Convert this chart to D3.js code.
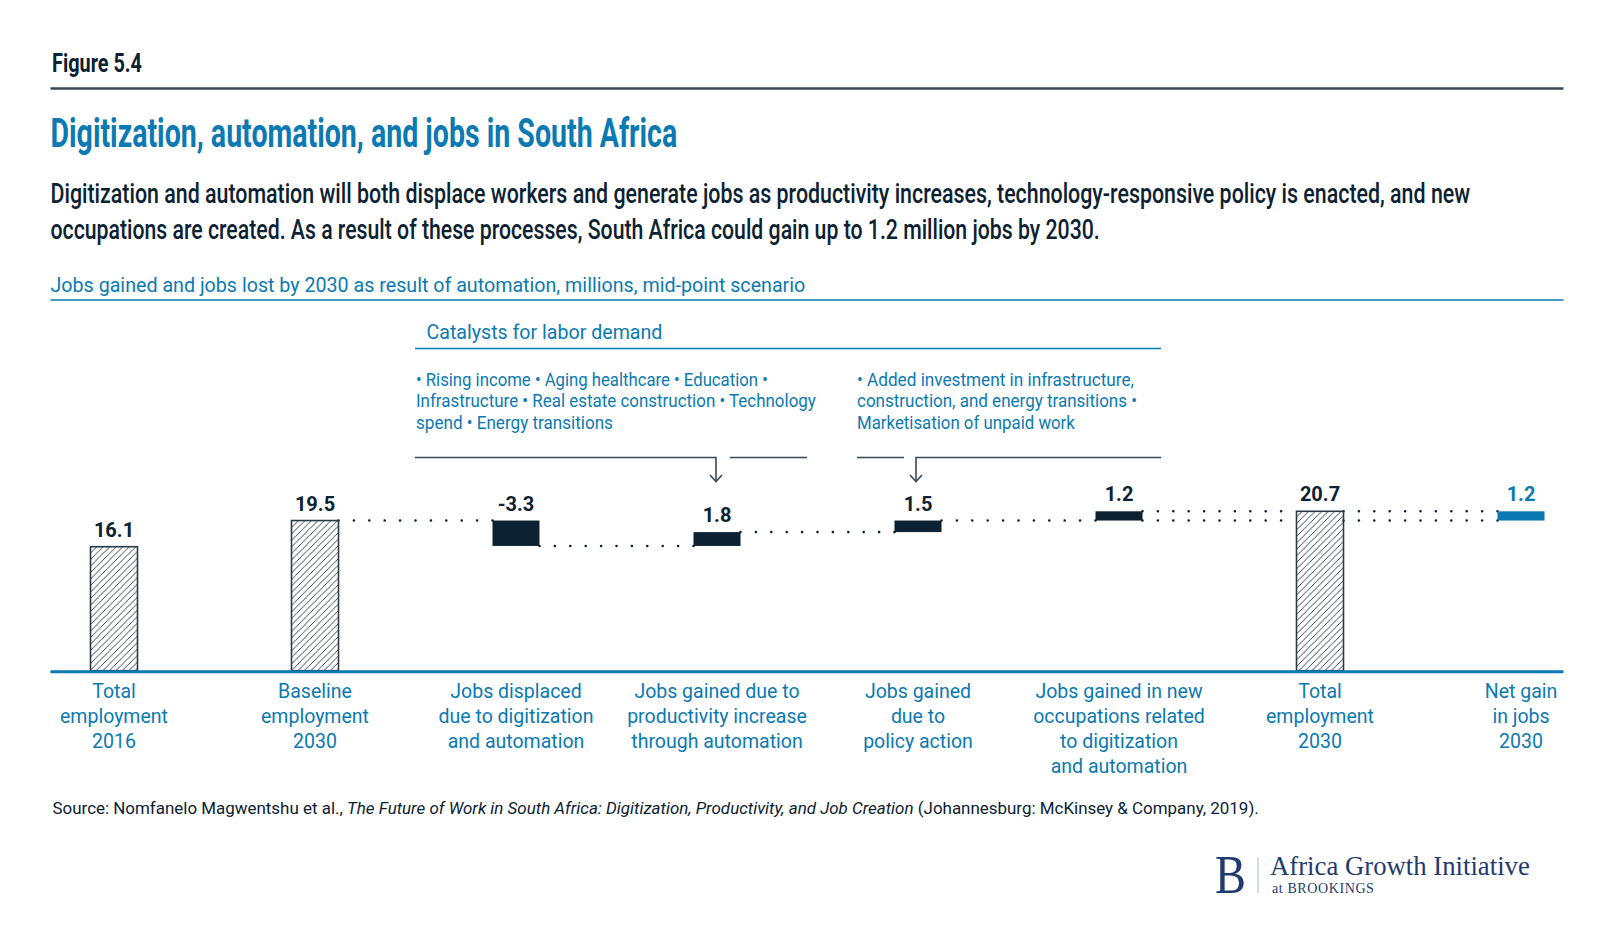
<!DOCTYPE html>
<html>
<head>
  <title>Digitization, automation, and jobs in South Africa</title>
  <script src="https://d3js.org/d3.v7.min.js"></script>
  <style>
    body { margin: 0; background: #fff; }
    text { font-family: Roboto, "Noto Sans", sans-serif; }
  </style>
</head>
<body>
<script type="text/javascript">

// ****** DATA ******

  var categories = ["total2016", "baseline2030", "displaced", "productivity", "policy", "newOccupations", "total2030", "netGain"];
  var values = [16.1, 19.5, -3.3, 1.8, 1.5, 1.2, 20.7, 1.2];
  var kinds = ["total", "total", "step", "step", "step", "step", "total", "net"];
  var valueLabels = ["16.1", "19.5", "-3.3", "1.8", "1.5", "1.2", "20.7", "1.2"];
  var categoryLines = [
    ["Total", "employment", "2016"],
    ["Baseline", "employment", "2030"],
    ["Jobs displaced", "due to digitization", "and automation"],
    ["Jobs gained due to", "productivity increase", "through automation"],
    ["Jobs gained", "due to", "policy action"],
    ["Jobs gained in new", "occupations related", "to digitization", "and automation"],
    ["Total", "employment", "2030"],
    ["Net gain", "in jobs", "2030"]
  ];
  var catalystsLeft = [
    "• Rising income • Aging healthcare • Education •",
    "Infrastructure • Real estate construction • Technology",
    "spend • Energy transitions"
  ];
  var catalystsRight = [
    "• Added investment in infrastructure,",
    "construction, and energy transitions •",
    "Marketisation of unpaid work"
  ];

// ****** STYLE ******

  var blue = "#0b7ab2",
      navy = "#0c2233",
      grey = "#3b4954";
  var width = 1615,
      height = 949;

  // fit a text horizontally to a target width (the original face is condensed)
  function fit(sel, x0, y0, w) {
    var natural = sel.node().getComputedTextLength();
    var sx = w / natural;
    sel.attr("x", 0).attr("y", 0)
      .attr("transform", "translate(" + x0 + "," + y0 + ") scale(" + sx + ",1)");
    return sel;
  }

// ****** SCALES ******

  var x = d3.scalePoint().domain(categories).range([114, 1521]);
  var y = d3.scaleLinear().domain([0, 20.7]).range([670.7, 511.3]);
  var barW = 47;

  // waterfall spans
  var run = 0, spans = [];
  values.forEach(function (v, i) {
    var lo, hi, end;
    if (kinds[i] === "total") { lo = 0; hi = v; end = v; run = v; }
    else if (kinds[i] === "step") { lo = Math.min(run, run + v); hi = Math.max(run, run + v); end = run + v; run = end; }
    else { hi = values[6]; lo = values[6] - v; end = hi; }
    spans.push({ cat: categories[i], kind: kinds[i], lo: lo, hi: hi, end: end, label: valueLabels[i] });
  });

// ****** SVG ******

  var svg = d3.select("body").append("svg")
    .attr("width", width)
    .attr("height", height);

  var defs = svg.append("defs");
  defs.append("pattern")
    .attr("id", "hatch")
    .attr("patternUnits", "userSpaceOnUse")
    .attr("width", 6.5).attr("height", 6.5)
    .append("path")
    .attr("d", "M-1,1 l2,-2 M0,6.5 l6.5,-6.5 M5.5,7.5 l2,-2")
    .attr("stroke", "#22323f")
    .attr("stroke-width", 0.9);

// ****** HEADER ******

  fit(svg.append("text")
    .attr("font-size", 26).attr("font-weight", 700).attr("fill", navy)
    .text("Figure 5.4"), 52, 72, 90);

  svg.append("line").attr("x1", 50.5).attr("x2", 1563.5).attr("y1", 88.5).attr("y2", 88.5)
    .attr("stroke", grey).attr("stroke-width", 2.5);

  fit(svg.append("text")
    .attr("font-size", 40).attr("font-weight", 700).attr("fill", blue)
    .text("Digitization, automation, and jobs in South Africa"), 50.5, 147, 627);

  fit(svg.append("text")
    .attr("font-size", 27.5).attr("font-weight", 500).attr("fill", navy)
    .text("Digitization and automation will both displace workers and generate jobs as productivity increases, technology-responsive policy is enacted, and new"), 50.5, 203, 1420);
  fit(svg.append("text")
    .attr("font-size", 27.5).attr("font-weight", 500).attr("fill", navy)
    .text("occupations are created. As a result of these processes, South Africa could gain up to 1.2 million jobs by 2030."), 50.5, 239, 1050);

  fit(svg.append("text")
    .attr("font-size", 19.5).attr("fill", blue)
    .text("Jobs gained and jobs lost by 2030 as result of automation, millions, mid-point scenario"), 50.5, 291.5, 755);

  svg.append("line").attr("x1", 50.5).attr("x2", 1563.5).attr("y1", 300).attr("y2", 300)
    .attr("stroke", blue).attr("stroke-width", 1.5);

// ****** CATALYSTS ******

  fit(svg.append("text")
    .attr("font-size", 20).attr("fill", blue)
    .text("Catalysts for labor demand"), 426.5, 338.5, 236);
  svg.append("line").attr("x1", 415).attr("x2", 1161).attr("y1", 348.5).attr("y2", 348.5)
    .attr("stroke", blue).attr("stroke-width", 1.5);

  var leftW = [352, 400, 197], rightW = [277, 280, 218];
  svg.append("g").selectAll("text").data(catalystsLeft).enter().append("text")
    .attr("font-size", 17.5).attr("fill", blue)
    .text(function (d) { return d; })
    .each(function (d, i) { fit(d3.select(this), 416, 385.5 + i * 21.5, leftW[i]); });
  svg.append("g").selectAll("text").data(catalystsRight).enter().append("text")
    .attr("font-size", 17.5).attr("fill", blue)
    .text(function (d) { return d; })
    .each(function (d, i) { fit(d3.select(this), 857, 385.5 + i * 21.5, rightW[i]); });

  // brackets with arrows pointing at the bars they feed
  var xa1 = x("productivity") - 1, xa2 = x("policy") - 2, yb = 457.5;
  var bracket = svg.append("g").attr("stroke", grey).attr("stroke-width", 1.6).attr("fill", "none");
  bracket.append("path").attr("d", "M415," + yb + "H" + xa1 + "V481");
  bracket.append("path").attr("d", "M" + (xa1 + 14) + "," + yb + "H807");
  bracket.append("path").attr("d", "M857," + yb + "H" + (xa2 - 12));
  bracket.append("path").attr("d", "M1161," + yb + "H" + xa2 + "V481");
  [xa1, xa2].forEach(function (xa) {
    bracket.append("path").attr("d", "M" + (xa - 6) + ",475L" + xa + ",481.5L" + (xa + 6) + ",475");
  });

// ****** CONNECTORS ******

  var netSpan = spans[7];
  var connectors = [];
  for (var i = 1; i < 7; i++) {
    var levels = i < 5 ? [spans[i].end] : [netSpan.lo, netSpan.hi];
    levels.forEach(function (lv) {
      connectors.push({ x1: x(categories[i]) + barW / 2, x2: x(categories[i + 1]) - barW / 2, v: lv });
    });
  }
  svg.append("g").selectAll("line").data(connectors).enter().append("line")
    .attr("x1", function (d) { return d.x1; })
    .attr("x2", function (d) { return d.x2; })
    .attr("y1", function (d) { return y(d.v); })
    .attr("y2", function (d) { return y(d.v); })
    .attr("stroke", navy)
    .attr("stroke-width", 2.6)
    .attr("stroke-linecap", "round")
    .attr("stroke-dasharray", "0,15.4");

// ****** BARS ******

  svg.append("g").selectAll("rect").data(spans).enter().append("rect")
    .attr("x", function (d) { return x(d.cat) - barW / 2; })
    .attr("y", function (d) { return y(d.hi); })
    .attr("width", barW)
    .attr("height", function (d) { return y(d.lo) - y(d.hi); })
    .attr("fill", function (d) {
      return d.kind === "total" ? "url(#hatch)" : d.kind === "net" ? blue : navy;
    })
    .attr("stroke", function (d) { return d.kind === "total" ? "#2a3a46" : "none"; })
    .attr("stroke-width", 1.6);

  svg.append("g").selectAll("text").data(spans).enter().append("text")
    .attr("x", function (d) { return x(d.cat); })
    .attr("y", function (d) { return y(d.hi) - 10; })
    .attr("text-anchor", "middle")
    .attr("font-size", 20)
    .attr("font-weight", 700)
    .attr("fill", function (d) { return d.kind === "net" ? blue : navy; })
    .text(function (d) { return d.label; });

  // baseline
  svg.append("line").attr("x1", 50.5).attr("x2", 1563.5).attr("y1", y(0) + 1).attr("y2", y(0) + 1)
    .attr("stroke", blue).attr("stroke-width", 3);

// ****** CATEGORY LABELS ******

  var catLabels = svg.append("g").selectAll("text").data(categoryLines).enter().append("text")
    .attr("text-anchor", "middle")
    .attr("font-size", 19.5)
    .attr("fill", blue);
  catLabels.selectAll("tspan").data(function (d, i) {
      return d.map(function (line) { return { line: line, cat: categories[i] }; });
    }).enter().append("tspan")
    .attr("x", function (d) { return x(d.cat); })
    .attr("y", function (d, j) { return 698 + j * 25; })
    .text(function (d) { return d.line; });

// ****** SOURCE ******

  var src = svg.append("text").attr("font-size", 16).attr("fill", navy);
  src.append("tspan").text("Source: Nomfanelo Magwentshu et al., ");
  src.append("tspan").attr("font-style", "italic")
    .text("The Future of Work in South Africa: Digitization, Productivity, and Job Creation");
  src.append("tspan").text(" (Johannesburg: McKinsey & Company, 2019).");
  fit(src, 52.5, 814, 1207);

// ****** LOGO ******

  var logo = svg.append("g").attr("fill", "#1f3b70");
  fit(logo.append("text").attr("font-size", 54)
    .style("font-family", "'Liberation Serif', serif").text("B"), 1215, 893, 31);
  svg.append("line").attr("x1", 1258).attr("x2", 1258).attr("y1", 857).attr("y2", 893)
    .attr("stroke", "#a9b7ca").attr("stroke-width", 1);
  fit(logo.append("text").attr("font-size", 27.5)
    .style("font-family", "'Liberation Serif', serif").text("Africa Growth Initiative"), 1270, 875, 260);
  logo.append("text").attr("x", 1272).attr("y", 893).attr("font-size", 14)
    .attr("letter-spacing", 0.6)
    .style("font-family", "'Liberation Serif', serif").text("at BROOKINGS");

</script>
</body>
</html>
